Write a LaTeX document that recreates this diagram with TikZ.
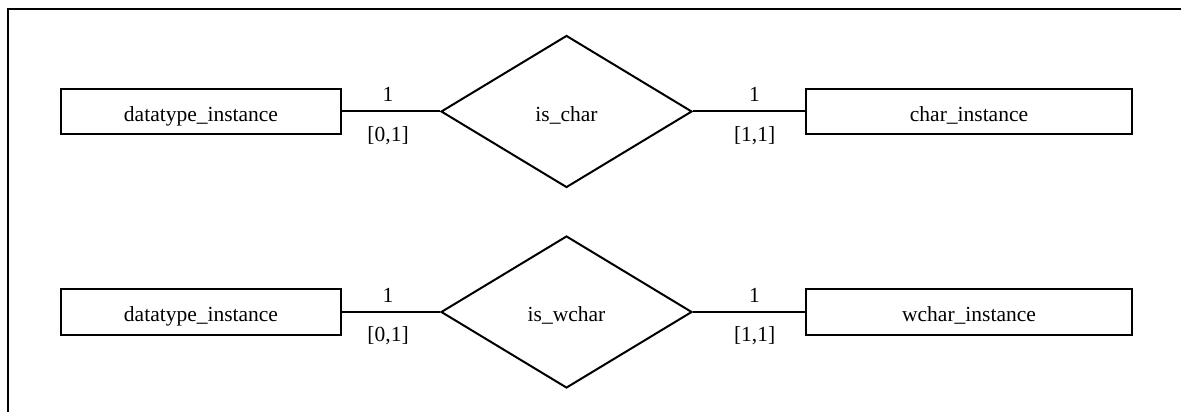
\documentclass[tikz,border=0pt]{standalone}
\usepackage{fontspec}
\setmainfont{Liberation Serif}
\usepackage{tikz}
\usetikzlibrary{shapes.geometric}
\tikzset{%
	every entity/.style={
		rectangle,
		draw,
		line width=1pt,
		minimum height=22.5pt,
		text height=9.7pt,
		text depth=0pt,
		inner sep=0pt
	},
	every relation/.style={
		diamond,
		draw,
		line width=1pt,
		minimum width=125.5pt,
		minimum height=76pt,
		text height=9.7pt,
		text depth=0pt,
		inner sep=0pt
	},
	card above/.style={anchor=base, yshift=5pt},
	card below/.style={anchor=base, yshift=-15pt},
}

\begin{document}
\begin{tikzpicture}[x=0.5pt, y=0.5pt, font=\fontsize{10.75pt}{12pt}\selectfont]
			\useasboundingbox (0,0) rectangle (1181,412);
			
			% frame
			\draw[line width=1pt] (1181,403) -- (8,403) -- (8,0);
			
			% is_char
			\node[every entity, minimum width=140pt] (dt1) at (201,300.5) {datatype\_instance};
			\node[every relation] (ischar) at (566.5,300.5) {is\_char};
			\node[every entity, minimum width=163pt] (char) at (969,300.5) {char\_instance};
			\draw[line width=1pt] (dt1.east) -- node[card above, pos=0.47] {1} node[card below, pos=0.47] {[0,1]} (ischar.west);
			\draw[line width=1pt] (ischar.east) -- node[card above, pos=0.55] {1} node[card below, pos=0.55] {[1,1]} (char.west);
			
			% is_wchar
			\node[every entity, minimum width=140pt] (dt2) at (201,100) {datatype\_instance};
			\node[every relation] (iswchar) at (566.5,100) {is\_wchar};
			\node[every entity, minimum width=163pt] (wchar) at (969,100) {wchar\_instance};
			\draw[line width=1pt] (dt2.east) -- node[card above, pos=0.47] {1} node[card below, pos=0.47] {[0,1]} (iswchar.west);
			\draw[line width=1pt] (iswchar.east) -- node[card above, pos=0.55] {1} node[card below, pos=0.55] {[1,1]} (wchar.west);
\end{tikzpicture}
\end{document}
